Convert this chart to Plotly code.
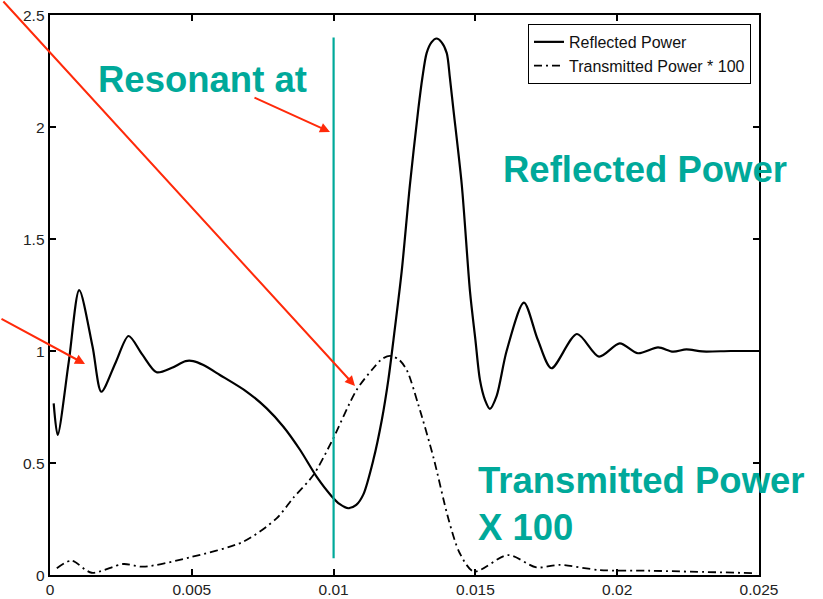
import plotly.graph_objects as go

# ---------------- data ----------------
refl_x = [0.00013, 0.00027, 0.00066, 0.00103, 0.00150, 0.00181, 0.00232, 0.00277,
          0.00325, 0.00376, 0.00430, 0.00478, 0.00505, 0.00541, 0.00599, 0.00694,
          0.00764, 0.00823, 0.00882, 0.00940, 0.00993, 0.01022, 0.01052, 0.01080,
          0.01105, 0.01140, 0.01170, 0.01193, 0.01211, 0.01240, 0.01269, 0.01299,
          0.01313, 0.01328, 0.01345, 0.01363, 0.01381, 0.01399, 0.01410, 0.01422,
          0.01452, 0.01481, 0.01500, 0.01516, 0.01534, 0.01551, 0.01575, 0.01610,
          0.01671, 0.01720, 0.01768, 0.01858, 0.01936, 0.02009, 0.02073, 0.02144,
          0.02197, 0.02244, 0.02300, 0.02400, 0.02500]
refl_y = [0.766, 0.625, 0.950, 1.272, 1.020, 0.818, 0.950, 1.067,
          0.985, 0.905, 0.925, 0.955, 0.955, 0.937, 0.893, 0.818,
          0.744, 0.662, 0.558, 0.439, 0.352, 0.316, 0.298, 0.313,
          0.360, 0.513, 0.692, 0.871, 1.049, 1.354, 1.741, 2.083,
          2.220, 2.330, 2.378, 2.395, 2.378, 2.330, 2.220, 2.083,
          1.741, 1.265, 1.050, 0.871, 0.781, 0.742, 0.800, 1.000,
          1.216, 1.050, 0.923, 1.076, 0.975, 1.034, 0.990, 1.016,
          0.997, 1.007, 0.998, 1.000, 1.000]

trans_x = [0.00024, 0.00076, 0.00147, 0.00258, 0.00329, 0.00494, 0.00682, 0.00799,
           0.00858, 0.00928, 0.00993, 0.01081, 0.01140, 0.01170, 0.01199, 0.01230,
           0.01258, 0.01299, 0.01352, 0.01405, 0.01445, 0.01495, 0.01615, 0.01715,
           0.01798, 0.01938, 0.02114, 0.02490]
trans_y = [0.030, 0.064, 0.010, 0.049, 0.037, 0.079, 0.149, 0.253,
           0.345, 0.445, 0.595, 0.826, 0.923, 0.964, 0.978, 0.962,
           0.915, 0.759, 0.525, 0.250, 0.097, 0.015, 0.089, 0.034,
           0.045, 0.022, 0.019, 0.008]

x_ticks = [0, 0.005, 0.01, 0.015, 0.02, 0.025]
x_tick_labels = ["0", "0.005", "0.01", "0.015", "0.02", "0.025"]
y_ticks = [0, 0.5, 1, 1.5, 2, 2.5]
y_tick_labels = ["0", "0.5", "1", "1.5", "2", "2.5"]

resonance_x = 0.01
resonance_y = [0.075, 2.4]

TEAL = "#00A99A"
RED = "#FF2A0A"
FONT = "Liberation Sans, Arial, sans-serif"
TICK_FONT = dict(family=FONT, size=15.5, color="#222")

fig = go.Figure()
fig.add_trace(go.Scatter(
    x=refl_x, y=refl_y, mode="lines", name="Reflected Power",
    line=dict(color="black", width=2.2, shape="spline", smoothing=0.8)))
fig.add_trace(go.Scatter(
    x=trans_x, y=trans_y, mode="lines", name="Transmitted Power * 100",
    line=dict(color="black", width=1.8, shape="spline", smoothing=0.8,
              dash="8px,4px,2px,4px")))
fig.add_trace(go.Scatter(
    x=[resonance_x, resonance_x], y=resonance_y, mode="lines", showlegend=False,
    line=dict(color=TEAL, width=2.2)))

bold_font = dict(family=FONT, size=36.5, color=TEAL)

annotations = [
    dict(xref="paper", yref="paper", x=0.0650, y=0.8857, xanchor="left", yanchor="middle",
         text="<b>Resonant at</b>", showarrow=False, font=bold_font),
    dict(xref="paper", yref="paper", x=0.6360, y=0.725, xanchor="left", yanchor="middle",
         text="<b>Reflected Power</b>", showarrow=False, font=bold_font),
    dict(xref="paper", yref="paper", x=0.6010, y=0.1259, xanchor="left", yanchor="middle",
         align="left", text="<b>Transmitted Power<br>X 100</b>", showarrow=False,
         font=bold_font),
]

# y tick labels, placed just left of the axis at each tick value
for v, lab in zip(y_ticks, y_tick_labels):
    annotations.append(dict(
        xref="paper", yref="y", x=0, y=v, xanchor="right", yanchor="middle",
        xshift=-3, text=lab, showarrow=False, font=TICK_FONT))

# red arrows: head in data coordinates, tail as pixel offset
arrows = [
    (0.010755, 0.844, -353, -389),
    (0.001234, 0.942, -87, -46),
    (0.009873, 1.978, -77, -35),
]
for hx, hy, ax, ay in arrows:
    annotations.append(dict(
        x=hx, y=hy, xref="x", yref="y", ax=ax, ay=ay, text="",
        showarrow=True, arrowhead=2, arrowsize=1.0, arrowwidth=2,
        arrowcolor=RED, standoff=0))

axis_common = dict(
    showgrid=False, zeroline=False, showline=True, linecolor="black", linewidth=1.5,
    mirror="ticks", ticks="inside", ticklen=6, tickwidth=1.5, tickcolor="black",
    automargin=False, tickfont=TICK_FONT,
)

fig.update_layout(
    width=823, height=599,
    margin=dict(l=50, r=64, t=15, b=24),
    paper_bgcolor="white", plot_bgcolor="white",
    showlegend=True,
    legend=dict(
        x=0.9887, y=0.984, xanchor="right", yanchor="top",
        bgcolor="white", bordercolor="black", borderwidth=1,
        font=dict(family=FONT, size=16, color="#111"),
        tracegroupgap=0, itemwidth=30,
    ),
    xaxis=dict(range=[0, 0.025], tickvals=x_ticks, ticktext=x_tick_labels, **axis_common),
    yaxis=dict(range=[0, 2.5], tickvals=y_ticks, ticktext=y_tick_labels,
               showticklabels=False, **axis_common),
    annotations=annotations,
)

fig.write_html("out.html")
